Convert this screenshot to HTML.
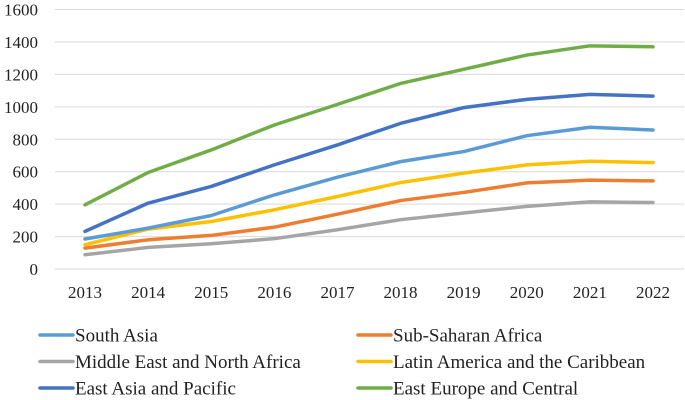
<!DOCTYPE html>
<html><head><meta charset="utf-8"><style>
html,body{margin:0;padding:0;background:#fff;width:685px;height:400px;overflow:hidden}
svg text{font-family:"Liberation Serif",serif;fill:#222}
</style></head><body>
<svg id="chart" width="685" height="400"></svg>
<script>
const categories=["2013","2014","2015","2016","2017","2018","2019","2020","2021","2022"];
const yTicks=[0,200,400,600,800,1000,1200,1400,1600];
const seriesNames=["South Asia","Sub-Saharan Africa","Middle East and North Africa","Latin America and the Caribbean","East Asia and Pacific","East Europe and Central"];
const southAsia=[185,252,330,457,566,662,724,822,874,857];
const subSaharan=[129,180,207,258,338,422,472,531,548,543];
const mena=[88,133,156,187,242,304,345,386,414,410];
const latam=[150,246,293,365,447,533,591,642,664,656];
const eastAsia=[232,406,509,642,765,898,995,1046,1077,1066];
const eastEurope=[396,595,734,888,1015,1144,1231,1319,1376,1370];
const seriesData=[southAsia,subSaharan,mena,latam,eastAsia,eastEurope];
const colors=["#5B9BD5","#ED7D31","#A5A5A5","#FFC000","#4472C4","#70AD47"];
const drawOrder=[2,1,3,0,4,5];
const NS="http://www.w3.org/2000/svg";
const svg=document.getElementById('chart');
const y=v=>269-v*(259.5/1600);
const x=i=>85+i*(568/9);
function mk(t,a){const e=document.createElementNS(NS,t);for(const k in a)e.setAttribute(k,a[k]);svg.appendChild(e);return e;}
yTicks.forEach(v=>{
 const g=mk('line',{x1:55,x2:684,y1:y(v),y2:y(v),stroke:'#d9d9d9','stroke-width':1});
 
 
 const t=mk('text',{x:38,y:y(v)+6,'text-anchor':'end','font-size':17});
 t.textContent=v;
 
 
});
categories.forEach((c,i)=>{
 const t=mk('text',{x:x(i),y:298,'text-anchor':'middle','font-size':17});
 t.textContent=c;
 
 
});
drawOrder.forEach(s=>{
 const pts=seriesData[s].map((v,i)=>x(i)+','+y(v)).join(' ');
 const p=mk('polyline',{points:pts,fill:'none',stroke:colors[s],'stroke-width':3.5,'stroke-linejoin':'round','stroke-linecap':'round'});
 
 
});
seriesNames.forEach((n,s)=>{
 const col=s%2,row=Math.floor(s/2);
 const lx=col?358:40, ly=335+row*26.5;
 const l=mk('line',{x1:lx,x2:lx+33,y1:ly,y2:ly,stroke:colors[s],'stroke-width':3.5,'stroke-linecap':'round'});
 
 
 const t=mk('text',{x:lx+35,y:ly+6.5,'font-size':19});
 t.textContent=n;
 
 
});
</script>
</body></html>
